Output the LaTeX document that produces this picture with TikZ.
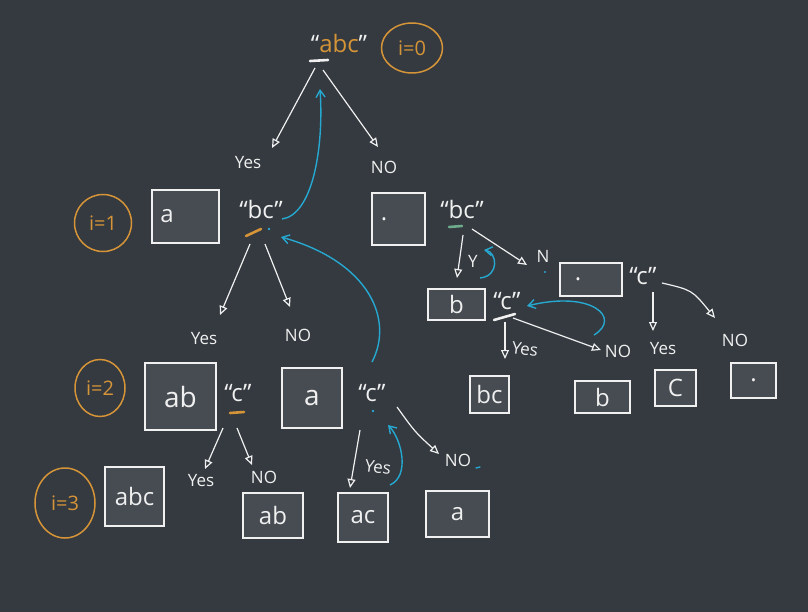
\documentclass[tikz,border=0pt]{standalone}
\usepackage{fontspec}
\setmainfont{Open Sans}
\usetikzlibrary{arrows.meta,shapes.geometric}
\definecolor{bg}{RGB}{52,58,64}
\definecolor{boxfill}{RGB}{70,76,82}
\definecolor{ink}{RGB}{240,240,240}
\definecolor{org}{RGB}{214,148,56}
\definecolor{cya}{RGB}{38,168,208}
\definecolor{teal}{RGB}{110,170,140}
\tikzset{
  box/.style={draw=ink, line width=1.5pt, fill=boxfill, inner sep=0pt, text=ink, font=\fontsize{24}{26}\selectfont},
  bigbox/.style={box, font=\fontsize{28}{30}\selectfont},
  qtext/.style={text=ink, inner sep=1pt, font=\fontsize{24}{26}\selectfont},
  lbl/.style={text=ink, inner sep=1pt, font=\fontsize{17}{19}\selectfont},
  idx/.style={draw=org, ellipse, line width=1.5pt, text=org, inner sep=0pt, font=\fontsize{20}{22}\selectfont},
  arr/.style={draw=ink, line width=1.2pt, -{Triangle[open, length=9pt, width=8pt]}},
  barr/.style={draw=cya, line width=1.4pt, -{Straight Barb[length=7pt, width=9pt]}},
  uline/.style={line width=2.6pt, line cap=round},
}
\begin{document}
\begin{tikzpicture}[x=1pt,y=-1pt]
\fill[bg] (0,0) rectangle (808,612);
\useasboundingbox (0,0) rectangle (808,612);

% ---- level 0
\node[qtext] (abc) at (339,44) {``{\color{org}abc}''};
\draw[ink, uline] (310,61) -- (328,60);
\node[idx, minimum width=61, minimum height=50] (i0) at (412,48) {i=0};
\coordinate (a0s1) at (315,68); \coordinate (a0s2) at (323,70);
\coordinate (a0e1) at (272,148); \coordinate (a0e2) at (378,147);
\coordinate (a0t) at (320,89);
\draw[arr] (a0s1) -- (a0e1);
\draw[arr] (a0s2) -- (a0e2);
\node[lbl] (yes0) at (248,163) {Yes};
\node[lbl] (no0) at (384,167) {NO};

% ---- level 1
\node[idx, minimum width=57, minimum height=57] (i1) at (103,223) {i=1};
\node[box, minimum width=67, minimum height=53] (ba1) at (185.5,216.5) {a\hspace*{37pt}};
\node[qtext] (bc1) at (261,210) {``bc''};
\draw[org, uline] (246,236) -- (261,229);
\fill[cya] (269,229) circle (1.3);
\coordinate (b1s1) at (250,244); \coordinate (b1s2) at (265,244);
\coordinate (b1e1) at (220,315); \coordinate (b1e2) at (290,307);
\draw[arr] (b1s1) -- (b1e1);
\draw[arr] (b1s2) -- (b1e2);
\node[lbl] (yes1) at (204,339) {Yes};
\node[lbl] (no1) at (298,335) {NO};
\coordinate (bc1r) at (282,219);
\draw[barr] (bc1r) .. controls (312,215) and (324,150) .. (a0t);
\node[box, minimum width=53, minimum height=52] (bd1) at (398.5,219) {.\hspace*{29pt}};

% ---- "bc" right branch
\node[qtext] (bc2) at (462,210) {``bc''};
\draw[teal, uline] (449,227) -- (462,226);
\coordinate (b2s1) at (463,235); \coordinate (b2s2) at (472,229);
\coordinate (b2e1) at (457,278); \coordinate (b2e2) at (527,265);
\draw[arr] (b2s1) -- (b2e1);
\draw[arr] (b2s2) -- (b2e2);
\node[lbl] (y2) at (473,261) {Y};
\node[lbl] (n2) at (543,256) {N};
\fill[cya] (545,272) circle (1.2);
\coordinate (s2a) at (480,278); \coordinate (s2b) at (484,250);
\draw[barr] (s2a) .. controls (500,276) and (497,252) .. (s2b);
\node[box, minimum width=62, minimum height=33] (bd2) at (591,279.5) {.\hspace*{26pt}};
\node[qtext] (c2) at (643,276) {``c''};
\coordinate (c2s1) at (653,292); \coordinate (c2s2) at (662,283);
\coordinate (c2e1) at (653,331); \coordinate (c2e2) at (715,318);
\draw[arr] (c2s1) -- (c2e1);
\draw[arr] (c2s2) .. controls (692,290) .. (c2e2);
\node[lbl] (yes2) at (663,349) {Yes};
\node[lbl] (no2) at (735,340) {NO};

\node[box, minimum width=57, minimum height=31] (bb1) at (456.5,304.5) {b};
\node[qtext] (c3) at (507,301) {``c''};
\draw[ink, uline] (494,320) -- (515,314);
\coordinate (c3s1) at (505,322); \coordinate (c3s2) at (513,318);
\coordinate (c3e1) at (505,359); \coordinate (c3e2) at (601,350);
\draw[arr] (c3s1) -- (c3e1);
\draw[arr] (c3s2) -- (c3e2);
\node[lbl, rotate=-8] (yes3) at (525,349) {Yes};
\node[lbl] (no3) at (618,351) {NO};
\coordinate (s3a) at (594,335); \coordinate (c3t) at (527,306);
\draw[barr] (s3a) .. controls (622,318) and (592,290) .. (c3t);

\node[box, minimum width=39, minimum height=37] (bbc) at (489.5,394.5) {bc};
\node[box, minimum width=55, minimum height=32] (bb2) at (602.5,397) {b};
\node[box, minimum width=41, minimum height=36] (bC) at (675.5,388) {C};
\node[box, minimum width=45, minimum height=35] (bd3) at (753.5,380.5) {.};

% ---- level 2
\node[idx, minimum width=50, minimum height=57] (i2) at (100,388) {i=2};
\node[bigbox, minimum width=71, minimum height=67] (bab1) at (180.5,396.5) {ab};
\node[qtext] (c4) at (238,393) {``c''};
\draw[org, uline] (230,413) -- (244,412);
\coordinate (c4s1) at (223,428); \coordinate (c4s2) at (237,428);
\coordinate (c4e1) at (205,469); \coordinate (c4e2) at (252,465);
\draw[arr] (c4s1) -- (c4e1);
\draw[arr] (c4s2) -- (c4e2);
\node[lbl] (yes4) at (201,481) {Yes};
\node[lbl] (no4) at (264,477) {NO};

\node[bigbox, minimum width=60, minimum height=60] (ba2) at (312,398) {a};
\node[qtext] (c5) at (372,393) {``c''};
\fill[cya] (373,411) circle (1.3);
\coordinate (c5s1) at (360,430); \coordinate (c5s2) at (397,407);
\coordinate (c5e1) at (350,488); \coordinate (c5e2) at (439,454);
\draw[arr] (c5s1) -- (c5e1);
\draw[arr] (c5s2) .. controls (415,432) .. (c5e2);
\node[lbl, rotate=-8] (yes5) at (378,467) {Yes};
\node[lbl] (no5) at (458,460) {NO};
\draw[cya, line width=1.4pt, line cap=round] (476,468) -- (480,467);
\coordinate (s5a) at (390,485); \coordinate (c5t) at (388,425);
\draw[barr] (s5a) .. controls (410,476) and (402,440) .. (c5t);
\coordinate (s4a) at (372,362); \coordinate (bc1t) at (281,237);
\draw[barr] (s4a) .. controls (394,320) and (370,262) .. (bc1t);

% ---- level 3
\node[idx, minimum width=60, minimum height=70] (i3) at (65,503) {i=3};
\node[box, minimum width=59, minimum height=59] (babc) at (134.5,496.5) {abc};
\node[box, minimum width=60, minimum height=45] (bab2) at (273,515.5) {ab};
\node[box, minimum width=50, minimum height=49] (bac) at (363,517.5) {ac};
\node[box, minimum width=63, minimum height=46] (ba3) at (457.5,514) {a};
\end{tikzpicture}
\end{document}
